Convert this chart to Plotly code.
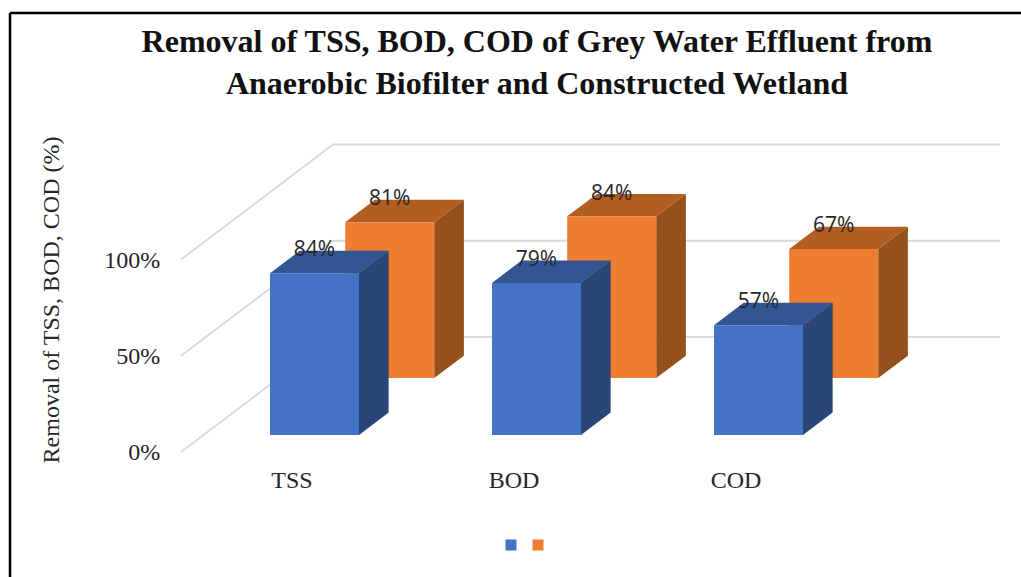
import plotly.graph_objects as go

categories = ["TSS", "BOD", "COD"]
blue_values = [84, 79, 57]
orange_values = [81, 84, 67]
y_ticks = [0, 50, 100]
y_tick_labels = ["0%", "50%", "100%"]

BLUE = ("#4472C4", "#2A4678", "#335693")
ORANGE = ("#ED7D31", "#95501C", "#B25E22")
GRID = "#D9D9D9"
SERIF = "Liberation Serif"

# Plot-area frame (pixels)
L, T, B = 168, 137, 463
W, H = 1021, 577
# Scale and oblique projection of the 3-D column chart onto the 2-D axes
PX_X, PX_Y = 222.0, 1.925
X0_PX, Y0_PX = 292, 452
DEPTH_X, DEPTH_Y = 152 / PX_X, 115 / PX_Y
BAR_W = 89 / PX_X
BAR_D = 0.195
LABEL_LIFT = 6.0


def px_paper_x(p):
    return (p - L) / (W - L)


def px_paper_y(p):
    return (B - p) / (B - T)


def proj(x, v, d):
    return x + d * DEPTH_X, v + d * DEPTH_Y


def poly(points):
    xs, ys = zip(*points)
    return list(xs) + [xs[0], None], list(ys) + [ys[0], None]


def faces(vals, d0):
    front, side, top, lx, ly = ([], []), ([], []), ([], []), [], []
    for i, v in enumerate(vals):
        x0 = i - BAR_W / 2
        x1 = i + BAR_W / 2
        d1 = d0 + BAR_D
        for target, pts in (
            (front, [proj(x0, 0, d0), proj(x1, 0, d0), proj(x1, v, d0), proj(x0, v, d0)]),
            (side, [proj(x1, 0, d0), proj(x1, 0, d1), proj(x1, v, d1), proj(x1, v, d0)]),
            (top, [proj(x0, v, d0), proj(x1, v, d0), proj(x1, v, d1), proj(x0, v, d1)]),
        ):
            a, b = poly(pts)
            target[0].extend(a)
            target[1].extend(b)
        cx, cy = proj(i, v, d0)
        lx.append(cx)
        ly.append(cy + LABEL_LIFT)
    return front, side, top, lx, ly


def add_series(fig, vals, d0, cols):
    front, side, top, lx, ly = faces(vals, d0)
    for (xs, ys), c in ((side, cols[1]), (top, cols[2]), (front, cols[0])):
        fig.add_trace(go.Scatter(x=xs, y=ys, mode="lines", fill="toself", fillcolor=c,
                                 line=dict(width=0, color=c), showlegend=False, hoverinfo="skip"))
    return lx, ly


fig = go.Figure()

# gridlines: front edge -> back wall -> right end
X_START, X_END = -0.5, 3.189
for t in y_ticks:
    gx, gy = proj(X_START, t, 1)
    fig.add_trace(go.Scatter(x=[X_START, gx, X_END], y=[t, gy, gy], mode="lines",
                             line=dict(color=GRID, width=1.8), showlegend=False, hoverinfo="skip"))

ox, oy = add_series(fig, orange_values, 0.643, ORANGE)
bx, by = add_series(fig, blue_values, 0.148, BLUE)

for xs, ys, vals in ((bx, by, blue_values), (ox, oy, orange_values)):
    fig.add_trace(go.Scatter(x=xs, y=ys, mode="text", text=[f"{v}%" for v in vals],
                             textposition="top center", cliponaxis=False,
                             textfont=dict(family="Open Sans", size=21, color="#262626"),
                             showlegend=False, hoverinfo="skip"))

for c, lg in ((BLUE[0], "legend"), (ORANGE[0], "legend2")):
    fig.add_trace(go.Scatter(x=[None], y=[None], mode="markers", name=" ", legend=lg, showlegend=True,
                             marker=dict(symbol="square", size=11, color=c)))


def key_legend(px):
    return dict(orientation="h", x=px_paper_x(px), xanchor="center", y=px_paper_y(545), yanchor="middle",
                font=dict(size=12), itemwidth=30, entrywidth=1, entrywidthmode="pixels",
                bgcolor="rgba(0,0,0,0)")


fig.update_layout(
    width=W, height=H,
    margin=dict(l=L, r=0, t=T, b=H - B),
    paper_bgcolor="white", plot_bgcolor="white",
    title=dict(
        text="<b>Removal of TSS, BOD, COD of Grey Water Effluent from<br>"
             "Anaerobic Biofilter and Constructed Wetland</b>",
        x=537 / W, xanchor="center", y=1 - 52 / H, yanchor="middle",
        font=dict(family=SERIF, size=32, color="#111111"),
    ),
    xaxis=dict(range=[(L - X0_PX) / PX_X, (W - X0_PX) / PX_X], tickvals=[0, 1, 2], ticktext=categories,
               showgrid=False, zeroline=False, showline=False, ticks="",
               tickfont=dict(family=SERIF, size=24, color="#262626")),
    yaxis=dict(range=[(Y0_PX - B) / PX_Y, (Y0_PX - T) / PX_Y], tickvals=y_ticks, ticktext=y_tick_labels,
               showgrid=False, zeroline=False, showline=False,
               ticks="outside", ticklen=2, tickcolor="rgba(0,0,0,0)",
               tickfont=dict(family=SERIF, size=24, color="#262626"),
               title=dict(text="Removal of TSS, BOD, COD (%)", standoff=37,
                          font=dict(family=SERIF, size=24, color="#262626"))),
    legend=key_legend(514),
    legend2=key_legend(541),
    shapes=[
        dict(type="line", xref="paper", yref="paper", x0=px_paper_x(10), x1=1, y0=px_paper_y(13), y1=px_paper_y(13),
             line=dict(color="black", width=2.5)),
        dict(type="line", xref="paper", yref="paper", x0=px_paper_x(10), x1=px_paper_x(10), y0=px_paper_y(13), y1=px_paper_y(577),
             line=dict(color="black", width=2.5)),
    ],
)

fig.write_html("out.html", post_script="document.body.style.margin='0';",
               config={"displayModeBar": False})
